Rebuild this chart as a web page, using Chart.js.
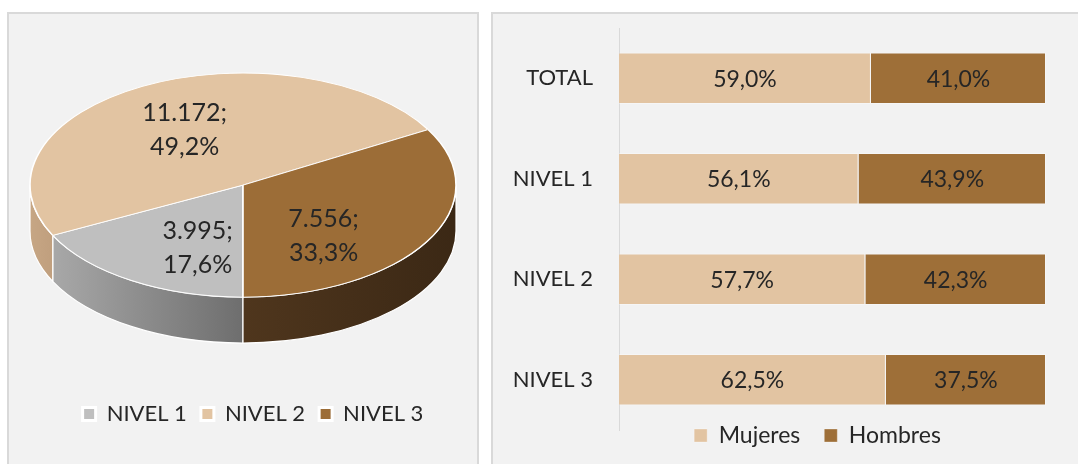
<!DOCTYPE html>
<html lang="es">
<head>
<meta charset="UTF-8">
<title>Distribución por nivel</title>
<script src="https://cdn.jsdelivr.net/npm/chart.js"></script>
<style>
    body {
        margin: 0;
        width: 1078px;
        height: 464px;
        overflow: hidden;
        background: #ffffff;
        font-family: Lato, sans-serif;
    }
    .panel {
        position: absolute;
        top: 12px;
        background: #f2f2f2;
        border: 2px solid #d9d9d9;
    }
    #panelPie { left: 7px; width: 468px; height: 500px; }
    #panelBar { left: 491px; width: 600px; height: 500px; border-right: none; }
    .panel canvas { display: block; }
</style>
</head>
<body>
<div class="panel" id="panelPie"><canvas id="pieChart" width="468" height="500"></canvas></div>
<div class="panel" id="panelBar"><canvas id="barChart" width="600" height="500"></canvas></div>

<script>
// data
const pieLabels = ["NIVEL 1", "NIVEL 2", "NIVEL 3"];
const pieValues = [3995, 11172, 7556];

const barCategories = ["TOTAL", "NIVEL 1", "NIVEL 2", "NIVEL 3"];
const mujeres = [59.0, 56.1, 57.7, 62.5];
const hombres = [41.0, 43.9, 42.3, 37.5];

// style
const FONT = "Lato";
const TEXT = "#262626";
const pieColors = ["#bfbfbf", "#e2c4a2", "#9c6d37"];
const pieSideColors = [["#a8a8a8", "#6e6e6e"], ["#c6a684", "#c09f7e"], ["#4f361d", "#3b2815"]];
const TILT = 0.526;
const DEPTH = 46;

const fmtInt = v => String(v).replace(/\B(?=(\d{3})+(?!\d))/g, ".");
const fmtPct = v => v.toFixed(1).replace(".", ",") + "%";

// visible (front) part of an arc, angles in canvas radians
const frontRanges = (s, e) => {
    const off = Math.floor(s / (2 * Math.PI)) * 2 * Math.PI;
    s -= off; e -= off;
    const out = [];
    [[0, Math.PI], [2 * Math.PI, 3 * Math.PI]].forEach(([a, b]) => {
        const lo = Math.max(a, s), hi = Math.min(b, e);
        if (hi > lo) out.push([lo, hi]);
    });
    return out;
};

// squash the pie into a tilted disc and give it a side wall
const pie3d = {
    id: "pie3d",
    beforeDatasetsDraw(chart) {
        const ctx = chart.ctx;
        const area = chart.chartArea;
        const arcs = chart.getDatasetMeta(0).data;
        const rx = area.width / 2, ry = rx * TILT;
        const cx = (area.left + area.right) / 2, cy = area.top + ry;
        chart.$ell = { cx, cy, rx, ry };

        arcs.forEach((arc, i) => {
            const p = arc.getProps(["startAngle", "endAngle"], true);
            frontRanges(p.startAngle, p.endAngle).forEach(([a1, a2]) => {
                const x1 = cx + rx * Math.cos(a1), x2 = cx + rx * Math.cos(a2);
                const g = ctx.createLinearGradient(Math.min(x1, x2), 0, Math.max(x1, x2), 0);
                g.addColorStop(0, pieSideColors[i][0]);
                g.addColorStop(1, pieSideColors[i][1]);
                ctx.beginPath();
                ctx.ellipse(cx, cy, rx, ry, 0, a1, a2);
                ctx.ellipse(cx, cy + DEPTH, rx, ry, 0, a2, a1, true);
                ctx.closePath();
                ctx.fillStyle = g;
                ctx.fill();
                ctx.strokeStyle = "#ffffff";
                ctx.lineWidth = 1.2;
                ctx.stroke();
            });
        });

        const p0 = arcs[0].getProps(["x", "y", "outerRadius"], true);
        ctx.save();
        ctx.translate(cx, cy);
        ctx.scale(rx / p0.outerRadius, ry / p0.outerRadius);
        ctx.translate(-p0.x, -p0.y);
    },
    afterDatasetsDraw(chart) {
        const ctx = chart.ctx;
        ctx.restore();
        const { cx, cy, rx, ry } = chart.$ell;
        const data = chart.data.datasets[0].data;
        const total = data.reduce((a, b) => a + b, 0);
        ctx.save();
        ctx.font = "25px " + FONT;
        ctx.fillStyle = TEXT;
        ctx.textAlign = "center";
        ctx.textBaseline = "middle";
        chart.getDatasetMeta(0).data.forEach((arc, i) => {
            const p = arc.getProps(["startAngle", "endAngle"], true);
            let m = ((p.startAngle + p.endAngle) / 2) % (2 * Math.PI);
            if (Math.sin(m) > 0) m += (Math.PI / 2 - m) * 0.32;
            const x = cx + rx * 0.58 * Math.cos(m);
            const y = cy + ry * 0.58 * Math.sin(m);
            ctx.fillText(fmtInt(data[i]) + ";", x, y - 15);
            ctx.fillText(fmtPct(data[i] / total * 100), x, y + 19);
        });
        ctx.restore();
    }
};

// move a legend box after layout (options.plugins.legendNudge = {dx, dy})
const legendNudge = {
    id: "legendNudge",
    afterLayout(chart, args, opts) {
        const lg = chart.legend;
        lg.left += opts.dx || 0;
        lg.right += opts.dx || 0;
        lg.top += opts.dy || 0;
        lg.bottom += opts.dy || 0;
    }
};

new Chart(document.getElementById("pieChart"), {
    type: "pie",
    data: {
        labels: pieLabels,
        datasets: [{
            data: pieValues,
            backgroundColor: pieColors,
            borderColor: "#ffffff",
            borderWidth: 1.2,
            clip: false
        }]
    },
    options: {
        responsive: false,
        animation: false,
        rotation: 180,
        layout: { padding: { top: 59, left: 21, right: 21, bottom: 78 } },
        plugins: {
            tooltip: { enabled: false },
            legendNudge: { dx: 10, dy: -1 },
            legend: {
                position: "bottom",
                labels: {
                    font: { family: FONT, size: 22 },
                    color: TEXT,
                    boxWidth: 13,
                    boxHeight: 13,
                    padding: 14,
                    generateLabels(chart) {
                        const items = Chart.overrides.doughnut.plugins.legend.labels.generateLabels(chart);
                        return items.map(it => Object.assign(it, { strokeStyle: "#ffffff", lineWidth: 3 }));
                    }
                }
            }
        }
    },
    plugins: [pie3d, legendNudge]
});

// bar chart
const barValueLabels = {
    id: "barValueLabels",
    afterDatasetsDraw(chart) {
        const ctx = chart.ctx;
        ctx.save();
        ctx.font = "23px " + FONT;
        ctx.fillStyle = TEXT;
        ctx.textAlign = "center";
        ctx.textBaseline = "middle";
        chart.data.datasets.forEach((ds, di) => {
            chart.getDatasetMeta(di).data.forEach((bar, i) => {
                const p = bar.getProps(["x", "y", "base"], true);
                ctx.fillText(fmtPct(ds.data[i]), (p.x + p.base) / 2, p.y + 1);
            });
        });
        ctx.restore();
    }
};

new Chart(document.getElementById("barChart"), {
    type: "bar",
    data: {
        labels: barCategories,
        datasets: [
            { label: "Mujeres", data: mujeres, backgroundColor: "#e2c4a2" },
            { label: "Hombres", data: hombres, backgroundColor: "#9e6f38" }
        ]
    },
    options: {
        indexAxis: "y",
        responsive: false,
        animation: false,
        layout: { padding: { top: 14, right: 47, left: 0, bottom: 27 } },
        datasets: {
            bar: {
                categoryPercentage: 1,
                barPercentage: 0.51,
                borderColor: "rgba(255,255,255,0.3)",
                borderWidth: 1
            }
        },
        scales: {
            x: { stacked: true, min: 0, max: 100, display: false },
            y: {
                stacked: true,
                grid: { display: false, drawTicks: false },
                border: { color: "#d9d9d9", width: 1 },
                ticks: { font: { family: FONT, size: 22 }, color: TEXT, padding: 26 },
                afterFit(scale) {
                    scale.width = 126;
                    scale.paddingTop = 0;
                    scale.paddingBottom = 0;
                }
            }
        },
        plugins: {
            tooltip: { enabled: false },
            legendNudge: { dx: 48, dy: -30 },
            legend: {
                position: "bottom",
                labels: {
                    font: { family: FONT, size: 23 },
                    color: TEXT,
                    boxWidth: 13,
                    boxHeight: 13,
                    padding: 24
                }
            }
        }
    },
    plugins: [barValueLabels, legendNudge]
});
</script>
</body>
</html>
